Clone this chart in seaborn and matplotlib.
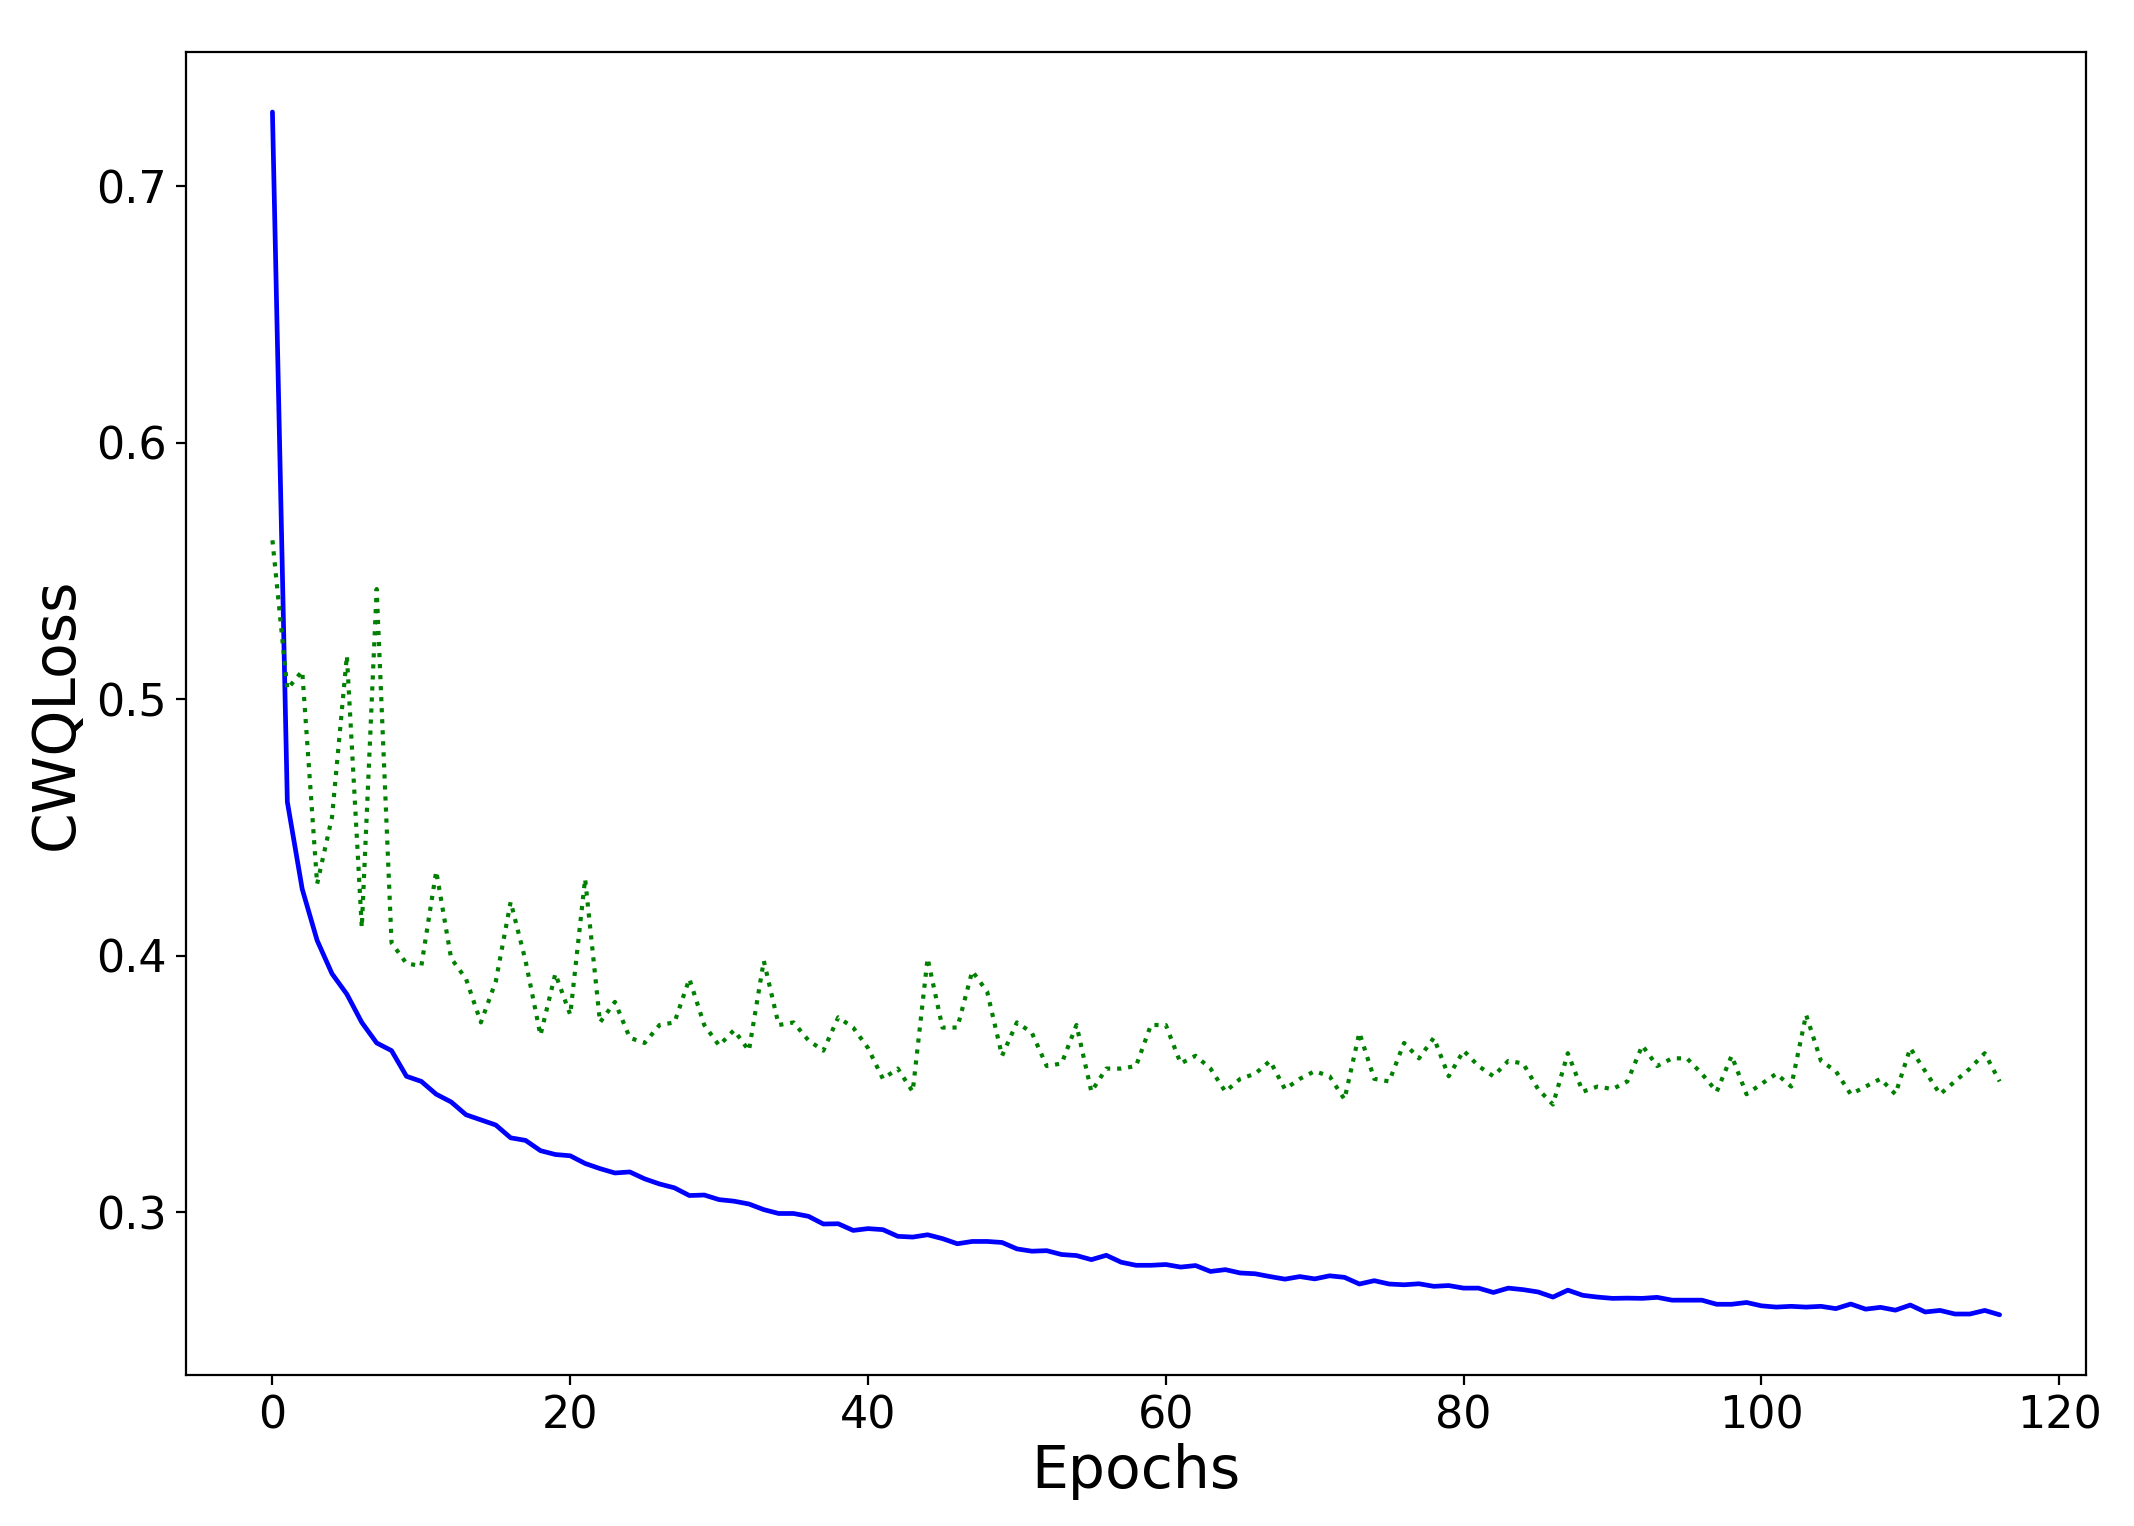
import matplotlib
matplotlib.use("Agg")
import matplotlib.pyplot as plt
import seaborn as sns

sns.set_style("ticks", {"axes.edgecolor": "black",
                        "axes.labelcolor": "black",
                        "text.color": "black",
                        "xtick.color": "black",
                        "ytick.color": "black"})
plt.rcParams["font.family"] = ["DejaVu Sans"]

epochs = list(range(117))

train_loss = [
    0.729, 0.460, 0.426, 0.406, 0.393, 0.385, 0.374, 0.366, 0.363, 0.353,
    0.351, 0.346, 0.343, 0.338, 0.336, 0.334, 0.329, 0.328, 0.324, 0.3225,
    0.322, 0.319, 0.317, 0.3153, 0.3157, 0.313, 0.311, 0.3095, 0.3065, 0.3067,
    0.3049, 0.3043, 0.3032, 0.301, 0.2995, 0.2995, 0.2984, 0.2954, 0.2955, 0.2929,
    0.2936, 0.2932, 0.2906, 0.2903, 0.2912, 0.2897, 0.2877, 0.2886, 0.2886, 0.2882,
    0.2857, 0.2848, 0.285, 0.2835, 0.2831, 0.2815, 0.2832, 0.2805, 0.2793, 0.2793,
    0.2796, 0.2786, 0.2792, 0.2769, 0.2776, 0.2763, 0.276, 0.2749, 0.2739, 0.2749,
    0.274, 0.2752, 0.2746, 0.272, 0.2733, 0.272, 0.2717, 0.2721, 0.2711, 0.2714,
    0.2704, 0.2704, 0.2687, 0.2704, 0.2698, 0.2689, 0.2669, 0.2696, 0.2676, 0.2669,
    0.2664, 0.2665, 0.2664, 0.2668, 0.2657, 0.2657, 0.2657, 0.2641, 0.2641, 0.2648,
    0.2635, 0.263, 0.2633, 0.263, 0.2633, 0.2624, 0.2642, 0.2622, 0.2629, 0.2618,
    0.2638, 0.2611, 0.2617, 0.2603, 0.2603, 0.2617, 0.260,
]

val_loss = [
    0.562, 0.504, 0.511, 0.428, 0.454, 0.517, 0.411, 0.543, 0.405, 0.397,
    0.396, 0.433, 0.399, 0.391, 0.374, 0.390, 0.421, 0.398, 0.369, 0.393,
    0.377, 0.430, 0.374, 0.382, 0.368, 0.366, 0.373, 0.374, 0.391, 0.373,
    0.365, 0.371, 0.363, 0.398, 0.373, 0.374, 0.367, 0.363, 0.376, 0.372,
    0.364, 0.352, 0.356, 0.347, 0.399, 0.372, 0.372, 0.394, 0.386, 0.361,
    0.374, 0.370, 0.357, 0.358, 0.373, 0.347, 0.356, 0.356, 0.357, 0.373,
    0.373, 0.358, 0.361, 0.356, 0.347, 0.352, 0.354, 0.359, 0.348, 0.352,
    0.355, 0.353, 0.344, 0.370, 0.352, 0.351, 0.366, 0.360, 0.368, 0.353,
    0.363, 0.357, 0.353, 0.359, 0.358, 0.348, 0.342, 0.362, 0.347, 0.349,
    0.348, 0.351, 0.365, 0.357, 0.360, 0.360, 0.354, 0.347, 0.361, 0.346,
    0.350, 0.354, 0.349, 0.377, 0.359, 0.355, 0.346, 0.349, 0.352, 0.346,
    0.364, 0.355, 0.346, 0.351, 0.356, 0.362, 0.351,
]

x_ticks = [0, 20, 40, 60, 80, 100, 120]
y_ticks = [0.3, 0.4, 0.5, 0.6, 0.7]

fig = plt.figure(figsize=(10.67, 7.63), dpi=200)
ax = fig.add_axes([0.0872, 0.099, 0.8903, 0.867])

sns.lineplot(x=epochs, y=train_loss, color="blue", linewidth=1.7, ax=ax)
sns.lineplot(x=epochs, y=val_loss, color="green", linestyle=":",
             linewidth=1.5, ax=ax)

ax.set_xticks(x_ticks)
ax.set_yticks(y_ticks)
ax.set_xlabel("Epochs", fontsize=21, labelpad=2)
ax.set_ylabel("CWQLoss", fontsize=21)
ax.tick_params(labelsize=16)

fig.savefig("out.png", dpi=200)
